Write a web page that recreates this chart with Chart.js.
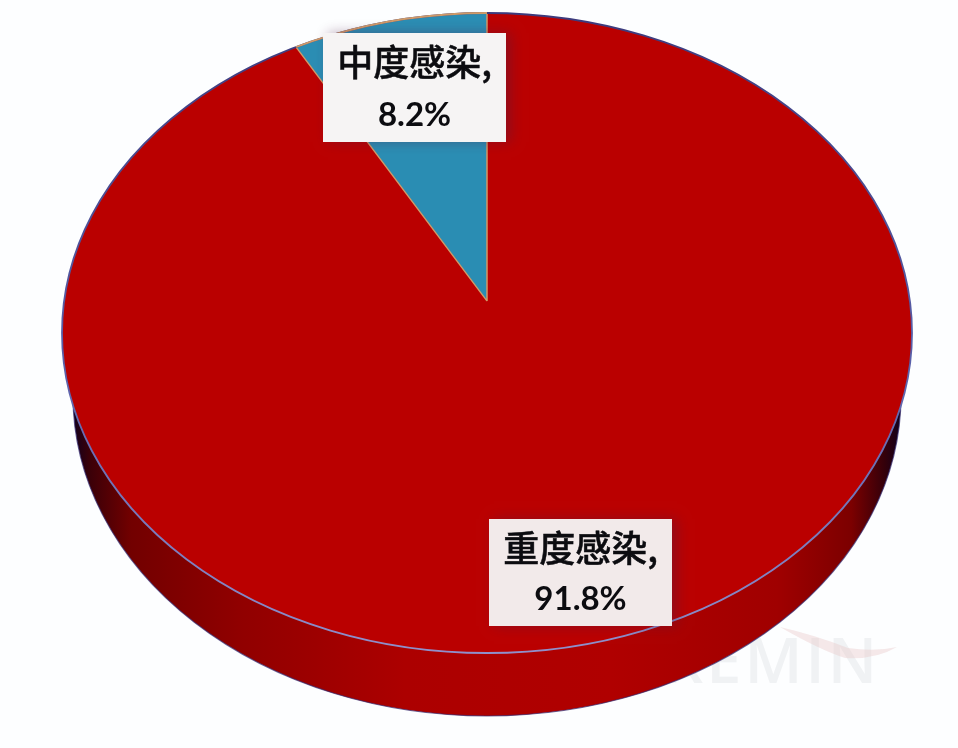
<!DOCTYPE html>
<html lang="zh">
<head>
<meta charset="utf-8">
<title>感染程度</title>
<script src="https://cdn.jsdelivr.net/npm/chart.js@4"></script>
<style>
    html, body { margin: 0; padding: 0; background: #fdfeff; }
    canvas { display: block; }
</style>
</head>
<body>
<canvas id="pie" width="958" height="748"></canvas>
<script>
// Data
const categories = ['重度感染', '中度感染'];
const percentages = [91.8, 8.2];
const sliceColors = ['#ba0000', '#2a8db3'];
const sliceBorders = ['#ba0000', '#cf9a68'];

// Tilted disc geometry: the apex sits above the ellipse centre because of the perspective
const disc = { cx: 487, cy: 333, rx: 425, ry: 320, apexY: 301, squash: 320 / 425 };
const wall = { cy: 396, rx: 414, ry: 320 };
const labelBoxes = [
    { x: 489, y: 519, w: 183, h: 107, line1: 548, line2: 599 },
    { x: 323, y: 33, w: 183, h: 109, line1: 62, line2: 115 }
];

function ellipsePath(ctx, cx, cy, rx, ry) {
    ctx.beginPath();
    ctx.ellipse(cx, cy, rx, ry, 0, 0, Math.PI * 2);
}

function toFace(ctx, meta) {
    const c = meta.data[0];
    ctx.translate(disc.cx, disc.apexY);
    ctx.scale(1, disc.squash);
    ctx.translate(-c.x, -c.y);
}

const tiltedDisc = {
    id: 'tiltedDisc',
    beforeDatasetsDraw(chart) {
        const ctx = chart.ctx;

        // Faint watermark behind the disc
        ctx.save();
        ctx.font = '600 63px "Open Sans"';
        ctx.letterSpacing = '3px';
        ctx.textAlign = 'right';
        ctx.textBaseline = 'alphabetic';
        ctx.fillStyle = '#f0f2f4';
        ctx.fillText('KREMIN', 880, 683);
        ctx.fillStyle = 'rgba(232, 200, 200, 0.4)';
        ctx.beginPath();
        ctx.moveTo(780, 627);
        ctx.quadraticCurveTo(820, 650, 845, 658);
        ctx.quadraticCurveTo(875, 660, 897, 647);
        ctx.quadraticCurveTo(875, 652, 848, 648);
        ctx.quadraticCurveTo(815, 635, 780, 627);
        ctx.fill();
        ctx.restore();

        // Side wall
        const g = ctx.createLinearGradient(73, 0, 901, 0);
        g.addColorStop(0, '#12001c');
        g.addColorStop(0.02, '#3a0008');
        g.addColorStop(0.07, '#720000');
        g.addColorStop(0.2, '#900000');
        g.addColorStop(0.4, '#ac0000');
        g.addColorStop(0.65, '#b00000');
        g.addColorStop(0.85, '#a00000');
        g.addColorStop(0.94, '#7c0000');
        g.addColorStop(0.98, '#34000a');
        g.addColorStop(1, '#10001c');
        ellipsePath(ctx, disc.cx, wall.cy, wall.rx, wall.ry);
        ctx.fillStyle = g;
        ctx.fill();
        ctx.strokeStyle = 'rgba(50, 40, 110, 0.7)';
        ctx.lineWidth = 1.2;
        ctx.stroke();

        // Top face: clipped to the ellipse, squashed around the apex
        ctx.save();
        ellipsePath(ctx, disc.cx, disc.cy, disc.rx, disc.ry);
        ctx.clip();
        toFace(ctx, chart.getDatasetMeta(0));
    },
    afterDatasetsDraw(chart) {
        const ctx = chart.ctx;
        ctx.restore();

        // Rim: dark along the far edge, lavender along the near edge
        const rim = ctx.createLinearGradient(0, disc.cy - disc.ry, 0, disc.cy + disc.ry);
        rim.addColorStop(0, '#3c3a7c');
        rim.addColorStop(0.55, '#5a60aa');
        rim.addColorStop(1, '#8f90cc');
        ellipsePath(ctx, disc.cx, disc.cy, disc.rx, disc.ry);
        ctx.strokeStyle = rim;
        ctx.lineWidth = 1.8;
        ctx.stroke();

        // Rim over the small slice is tan: clip to the wedge, then stroke in page space
        const meta = chart.getDatasetMeta(0);
        const arc = meta.data[1];
        const pageSpace = ctx.getTransform();
        ctx.save();
        toFace(ctx, meta);
        ctx.beginPath();
        ctx.moveTo(arc.x, arc.y);
        ctx.arc(arc.x, arc.y, arc.outerRadius, arc.startAngle, arc.endAngle);
        ctx.closePath();
        ctx.clip();
        ctx.setTransform(pageSpace);
        ellipsePath(ctx, disc.cx, disc.cy, disc.rx, disc.ry);
        ctx.strokeStyle = '#cf9a68';
        ctx.lineWidth = 1.8;
        ctx.stroke();
        ctx.restore();

        // Data labels
        categories.forEach((name, i) => {
            const box = labelBoxes[i];
            const mid = box.x + box.w / 2;
            ctx.save();
            ctx.shadowColor = 'rgba(80, 30, 70, 0.4)';
            ctx.shadowBlur = 12;
            ctx.shadowOffsetX = 5;
            ctx.fillStyle = i === 0 ? '#f2eaea' : '#f6f4f4';
            ctx.fillRect(box.x, box.y, box.w, box.h);
            ctx.restore();

            ctx.save();
            ctx.fillStyle = '#0c0c10';
            ctx.strokeStyle = '#0c0c10';
            ctx.lineWidth = 0.5;
            ctx.textAlign = 'center';
            ctx.textBaseline = 'middle';
            ctx.font = '500 36px "Noto Sans CJK SC"';
            ctx.fillText(name + ',', mid, box.line1);
            ctx.strokeText(name + ',', mid, box.line1);
            ctx.font = 'bold 33px Lato';
            ctx.fillText(percentages[i] + '%', mid, box.line2);
            ctx.restore();
        });
    }
};

new Chart(document.getElementById('pie'), {
    type: 'pie',
    data: {
        labels: categories,
        datasets: [{
            data: percentages,
            backgroundColor: sliceColors,
            borderColor: sliceBorders,
            borderWidth: 1.5,
            clip: false,
            radius: 480
        }]
    },
    options: {
        responsive: false,
        animation: false,
        layout: { padding: 0 },
        plugins: {
            legend: { display: false },
            tooltip: { enabled: false }
        }
    },
    plugins: [tiltedDisc]
});
</script>
</body>
</html>
